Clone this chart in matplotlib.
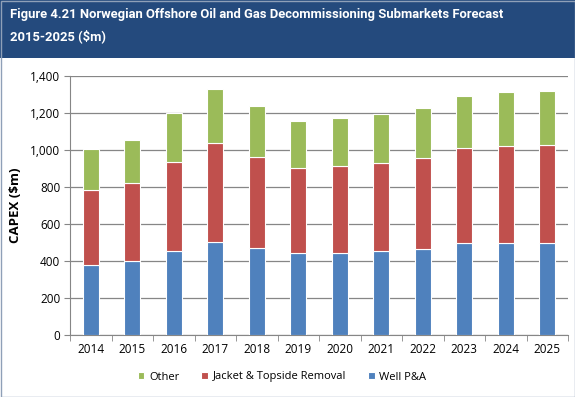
import matplotlib.pyplot as plt
import numpy as np
from matplotlib.patches import Rectangle

# data ($m)
years = ['2014', '2015', '2016', '2017', '2018', '2019',
         '2020', '2021', '2022', '2023', '2024', '2025']
well_pa = [378, 400, 456, 504, 472, 441, 445, 454, 465, 495, 499, 499]
jacket = [406, 420, 477, 532, 492, 463, 470, 474, 493, 514, 525, 530]
other = [220, 234, 265, 292, 272, 253, 258, 265, 267, 285, 288, 290]

col_blue = '#4f81bd'
col_red = '#c0504d'
col_green = '#9bbb59'

plt.rcParams['font.family'] = ['Open Sans', 'DejaVu Sans']

fig = plt.figure(figsize=(5.75, 3.97), dpi=100)

# title banner
fig.patches.append(Rectangle((0, 1 - 58 / 397), 1, 58 / 397, transform=fig.transFigure,
                             facecolor='#244a7d', edgecolor='none', zorder=0))
fig.patches.append(Rectangle((0.5 / 575, 0.5 / 397), 1 - 1 / 575, 1 - 1 / 397,
                             transform=fig.transFigure, facecolor='none',
                             edgecolor='#8fa0b8', linewidth=1, zorder=5))
fig.text(10 / 575, 1 - 8 / 397,
         'Figure 4.21 Norwegian Offshore Oil and Gas Decommissioning Submarkets Forecast\n2015-2025 ($m)',
         color='white', fontsize=9.4, fontweight='bold', va='top', ha='left',
         linespacing=1.75, family=['Roboto', 'DejaVu Sans'])

ax = fig.add_axes([70 / 575, 1 - 335 / 397, 498 / 575, 259 / 397])

x = np.arange(len(years))
w = 0.375
ax.bar(x, well_pa, w, color=col_blue, edgecolor='white', linewidth=0.8, label='Well P&A', zorder=3)
ax.bar(x, jacket, w, bottom=well_pa, color=col_red, edgecolor='white', linewidth=0.8,
       label='Jacket & Topside Removal', zorder=3)
bottom2 = np.array(well_pa) + np.array(jacket)
ax.bar(x, other, w, bottom=bottom2, color=col_green, edgecolor='white', linewidth=0.8,
       label='Other', zorder=3)

ax.set_xlim(-0.5, len(years) - 0.5)
ax.set_ylim(0, 1400)
ax.set_yticks(range(0, 1401, 200))
ax.set_yticklabels(['{:,}'.format(v) for v in range(0, 1401, 200)], fontsize=8.5)
ax.set_xticks(x)
ax.set_xticklabels(years, fontsize=8.5)
ax.tick_params(axis='x', length=0, pad=6)
ax.set_xticks(np.arange(-0.5, len(years)), minor=True)
ax.tick_params(axis='x', which='minor', length=4, color='#868686')
ax.tick_params(axis='y', length=4, color='#868686', pad=3)
ax.yaxis.grid(True, color='#868686', linewidth=0.9, zorder=0)
ax.set_axisbelow(True)
for s in ['top', 'right']:
    ax.spines[s].set_visible(False)
for s in ['left', 'bottom']:
    ax.spines[s].set_color('#868686')
ax.set_ylabel('CAPEX ($m)', fontsize=9.5, fontweight='bold', labelpad=6)

handles, labels = ax.get_legend_handles_labels()
leg = fig.legend(handles[::-1], labels[::-1], loc='center', bbox_to_anchor=(282 / 575, 1 - 377 / 397),
                 ncol=3, frameon=False, fontsize=8, handlelength=0.6, handleheight=0.6,
                 handletextpad=0.4, columnspacing=2.0)

fig.savefig('out.png', dpi=100)
